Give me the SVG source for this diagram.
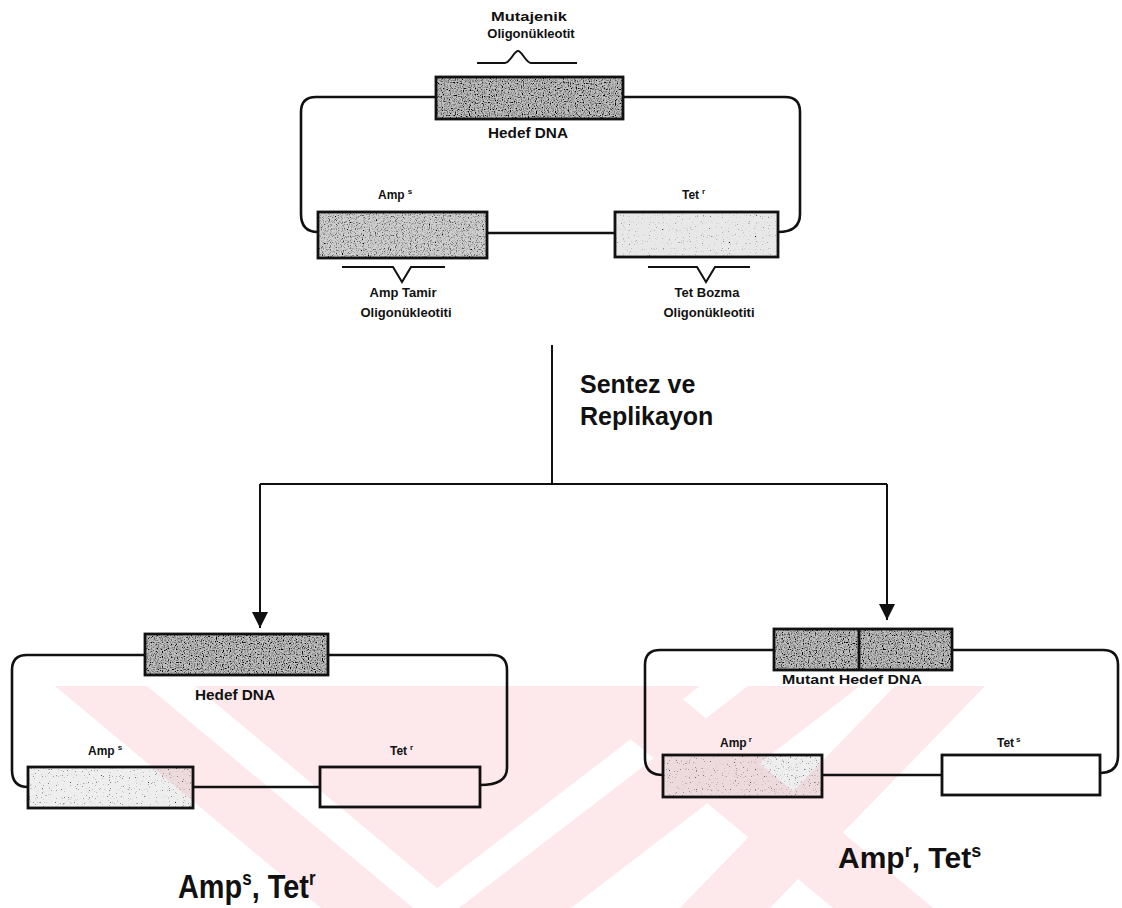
<svg xmlns="http://www.w3.org/2000/svg" width="1122" height="908" viewBox="0 0 1122 908">
<defs>
<style>
.ln{fill:none;stroke:#111;stroke-width:2.6;stroke-linejoin:round}
.bx{fill:none;stroke:#111;stroke-width:2.8}
.cn{fill:none;stroke:#111;stroke-width:2}
.t{font-family:"Liberation Sans",Arial,sans-serif;font-weight:bold;fill:#111}
.s13{font-size:13px}
.s12{font-size:12px}
.s14{font-size:14px}
.wm{fill:#fde8eb}
</style>
<filter id="stD" x="0" y="0" width="1" height="1">
<feTurbulence type="fractalNoise" baseFrequency="0.85" numOctaves="1" seed="4" result="n"/>
<feColorMatrix in="n" type="matrix" values="0 0 0 0 0  0 0 0 0 0  0 0 0 0 0  4 0 0 0 -1.8" result="d"/>
<feMerge><feMergeNode in="SourceGraphic"/><feMergeNode in="d"/></feMerge>
</filter>
<filter id="stM" x="0" y="0" width="1" height="1">
<feTurbulence type="fractalNoise" baseFrequency="0.85" numOctaves="1" seed="9" result="n"/>
<feColorMatrix in="n" type="matrix" values="0 0 0 0 0  0 0 0 0 0  0 0 0 0 0  4 0 0 0 -2.0" result="d"/>
<feMerge><feMergeNode in="SourceGraphic"/><feMergeNode in="d"/></feMerge>
</filter>
<filter id="stL" x="0" y="0" width="1" height="1">
<feTurbulence type="fractalNoise" baseFrequency="0.85" numOctaves="1" seed="7" result="n"/>
<feColorMatrix in="n" type="matrix" values="0 0 0 0 0  0 0 0 0 0  0 0 0 0 0  5 0 0 0 -3.2" result="d"/>
<feMerge><feMergeNode in="SourceGraphic"/><feMergeNode in="d"/></feMerge>
</filter>
<marker id="ah" viewBox="0 0 16 16" refX="16" refY="8" markerWidth="16" markerHeight="16" markerUnits="userSpaceOnUse" orient="auto">
<path d="M0,0 L16,8 L0,16 Z" fill="#111"/>
</marker>
</defs>
<rect width="1122" height="908" fill="#fff"/>

<!-- watermark (background) -->
<g id="watermark">
<polygon class="wm" points="55,686 147,686 413,908 321,908"/>
<polygon class="wm" points="195,686 700,686 437,888"/>
<polygon class="wm" points="748,686 860,686 571,908 459,908"/>
<polygon class="wm" points="567,686 667,686 933,908 833,908"/>
<polygon class="wm" points="895,686 985,686 770,908 680,908"/>
</g>

<!-- top plasmid -->
<g id="top-plasmid">
<path class="ln" d="M436,97 H316 Q301,97 301,112 V214 Q301,232 318,232"/>
<path class="ln" d="M623,97 H785 Q800,97 800,112 V214 Q800,232 778,232"/>
<path class="ln" d="M487,233 H615"/>
<rect x="436" y="77" width="187" height="42" fill="#c0c0c0" filter="url(#stD)"/>
<rect class="bx" x="436" y="77" width="187" height="42"/>
<rect x="318" y="212" width="169" height="46" fill="#cfcfcf" filter="url(#stM)"/>
<rect class="bx" x="318" y="212" width="169" height="46"/>
<rect x="615" y="212" width="163" height="45" fill="#e8e8e8" filter="url(#stL)"/>
<rect class="bx" x="615" y="212" width="163" height="45"/>
<path class="cn" d="M477,63 H505 C510,63 514,51 518,51 C522,51 526,63 531,63 H577"/>
<path class="cn" d="M342,267 H393 L402,282 L411,267 H445"/>
<path class="cn" d="M648,267 H697 L706,282 L715,267 H750"/>
<text class="t s13" x="529" y="21" text-anchor="middle" textLength="76" lengthAdjust="spacingAndGlyphs">Mutajenik</text>
<text class="t s13" x="531" y="38" text-anchor="middle">Oligonükleotit</text>
<text class="t s14" x="528" y="138" text-anchor="middle" textLength="80" lengthAdjust="spacingAndGlyphs">Hedef DNA</text>
<text class="t s12" x="378" y="199">Amp<tspan dx="3" dy="-5" font-size="8">s</tspan></text>
<text class="t s12" x="682" y="199">Tet<tspan dx="3" dy="-5" font-size="8">r</tspan></text>
<text class="t s13" x="403" y="297" text-anchor="middle">Amp Tamir</text>
<text class="t s13" x="406" y="317" text-anchor="middle">Oligonükleotiti</text>
<text class="t s13" x="707" y="297" text-anchor="middle">Tet Bozma</text>
<text class="t s13" x="709" y="317" text-anchor="middle">Oligonükleotiti</text>
</g>

<!-- connectors -->
<g id="connectors">
<path class="cn" d="M552,345 V484"/>
<path class="cn" d="M260,484 H887"/>
<path class="cn" d="M260,484 V628" marker-end="url(#ah)"/>
<path class="cn" d="M887,484 V620" marker-end="url(#ah)"/>
<text class="t" x="580" y="393" font-size="25">Sentez ve</text>
<text class="t" x="580" y="425" font-size="25">Replikayon</text>
</g>

<!-- bottom left plasmid -->
<g id="plasmid-left">
<path class="ln" d="M145,655 H27 Q12,655 12,670 V770 Q12,787 28,787"/>
<path class="ln" d="M328,655 H492 Q507,655 507,670 V768 Q507,785 480,785"/>
<path class="ln" d="M193,787 H320"/>
<rect x="145" y="634" width="183" height="41" fill="#c0c0c0" filter="url(#stD)"/>
<rect class="bx" x="145" y="634" width="183" height="41"/>
<rect x="28" y="767" width="165" height="41" fill="#7a7a7a" fill-opacity="0.13" filter="url(#stL)"/>
<rect class="bx" x="28" y="767" width="165" height="41"/>
<rect class="bx" x="320" y="767" width="160" height="40"/>
<text class="t s14" x="235" y="700" text-anchor="middle" textLength="80" lengthAdjust="spacingAndGlyphs">Hedef DNA</text>
<text class="t s12" x="88" y="755">Amp<tspan dx="3" dy="-5" font-size="8">s</tspan></text>
<text class="t s12" x="390" y="755">Tet<tspan dx="3" dy="-5" font-size="8">r</tspan></text>
<text class="t" font-size="34" transform="translate(178,898) scale(0.85,1)">Amp<tspan font-size="20" dy="-13">s</tspan><tspan dy="13">, Tet</tspan><tspan font-size="20" dy="-13">r</tspan></text>
</g>

<!-- bottom right plasmid -->
<g id="plasmid-right">
<path class="ln" d="M774,650 H660 Q645,650 645,665 V758 Q645,775 663,775"/>
<path class="ln" d="M952,650 H1103 Q1118,650 1118,665 V756 Q1118,773 1100,773"/>
<path class="ln" d="M822,775 H942"/>
<rect x="774" y="629" width="178" height="41" fill="#c0c0c0" filter="url(#stD)"/>
<rect class="bx" x="774" y="629" width="178" height="41"/>
<path class="bx" d="M859,629 V670"/>
<rect x="663" y="755" width="159" height="42" fill="#7a7a7a" fill-opacity="0.13" filter="url(#stL)"/>
<rect class="bx" x="663" y="755" width="159" height="42"/>
<rect class="bx" x="942" y="755" width="158" height="40"/>
<text class="t s13" x="852" y="684" text-anchor="middle" textLength="140" lengthAdjust="spacingAndGlyphs">Mutant Hedef DNA</text>
<text class="t s12" x="720" y="747">Amp<tspan dx="2" dy="-5" font-size="8">r</tspan></text>
<text class="t s12" x="997" y="747">Tet<tspan dx="2" dy="-5" font-size="8">s</tspan></text>
<text class="t" font-size="30" x="838" y="868">Amp<tspan font-size="18" dy="-11">r</tspan><tspan dy="11">, Tet</tspan><tspan font-size="18" dy="-11">s</tspan></text>
</g>
</svg>
